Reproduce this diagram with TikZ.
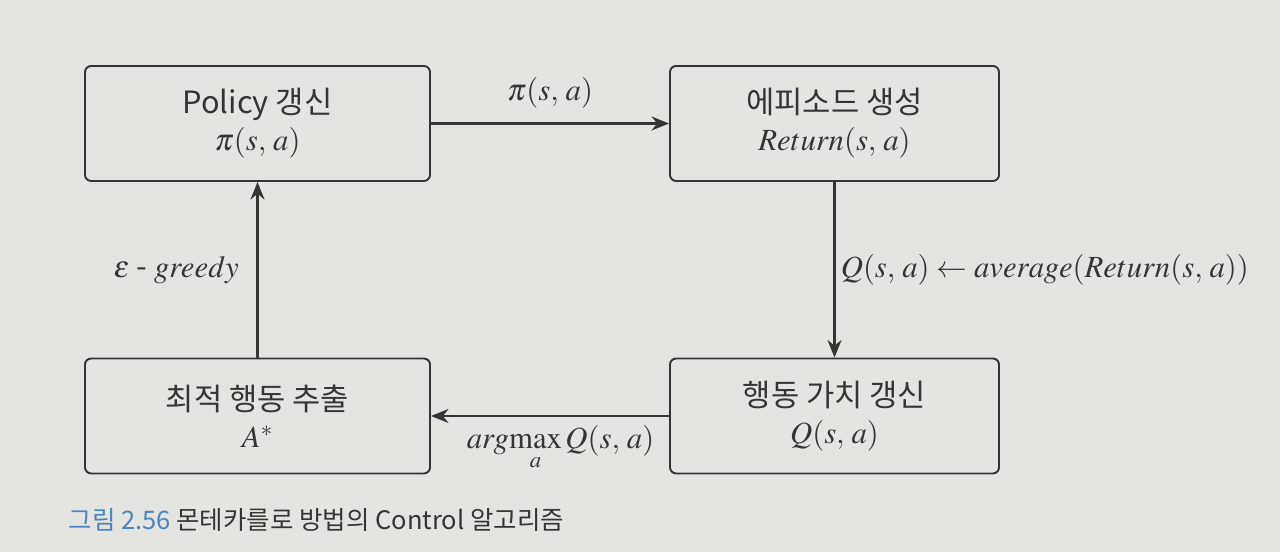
\documentclass[tikz,border=0pt]{standalone}
\usepackage{mathptmx}
\usepackage{fontspec}
\newfontfamily\kr{Noto Sans CJK KR}
\usetikzlibrary{arrows.meta}
\definecolor{cPaper}{HTML}{E4E4E1}
\definecolor{cInk}{HTML}{353535}
\definecolor{cFig}{HTML}{4C84BF}

\begin{document}
\begin{tikzpicture}[
    x=1cm, y=1cm, font=\kr\fontsize{17.5}{21}\selectfont,
    stage/.style={draw=cInk, line width=1.1pt, rounded corners=3.5pt,
                  text=cInk, align=center, minimum height=2.3cm, inner sep=0pt},
    wide/.style={minimum width=6.9cm},
    narrow/.style={minimum width=6.58cm},
    flow/.style={-{Stealth[length=10pt, width=8pt]}, line width=1.2pt, draw=cInk},
    lbl/.style={text=cInk, inner sep=2pt},
    figcap/.style={font=\kr\fontsize{14.5}{17}\selectfont, text=cInk, anchor=west},
]

% ---- paper ----
\fill[cPaper] (0,0) rectangle (25.6,11.04);
\useasboundingbox (0,0) rectangle (25.6,11.04);

% ===========================================================================
% stages of the control loop
% ===========================================================================
\node[stage, wide]   (policy)  at (5.15,8.57)
      {Policy 갱신\\ $\pi(s,\,a)$};
\node[stage, narrow] (episode) at (16.69,8.57)
      {에피소드 생성\\ $Return(s,\,a)$};
\node[stage, narrow] (qvalue)  at (16.69,2.72)
      {행동 가치 갱신\\ $Q(s,\,a)$};
\node[stage, wide]   (best)    at (5.15,2.72)
      {최적 행동 추출\\ $A^{*}$};

% ===========================================================================
% arrows between stages
% ===========================================================================
\draw[flow] (policy.east) -- (episode.west)
      node[lbl, midway, above=6pt] {$\pi(s,\,a)$};
\draw[flow] (episode.south) -- (qvalue.north)
      node[lbl, midway, anchor=west, xshift=1pt]
      {$Q(s,\,a) \leftarrow average(Return(s,\,a))$};
\draw[flow] (qvalue.west) -- (best.east)
      node[lbl, midway, below=3pt, xshift=6pt] {$arg\!\max\limits_{a} Q(s,\,a)$};
\draw[flow] (best.north) -- (policy.south)
      node[lbl, midway, anchor=east, xshift=-8pt] {$\varepsilon\;\mbox{-}\;greedy$};

% ---- caption ----
\node[figcap] (caption) at (1.25,0.64)
      {\textcolor{cFig}{그림 2.56} 몬테카를로 방법의 Control 알고리즘};

\end{tikzpicture}
\end{document}
